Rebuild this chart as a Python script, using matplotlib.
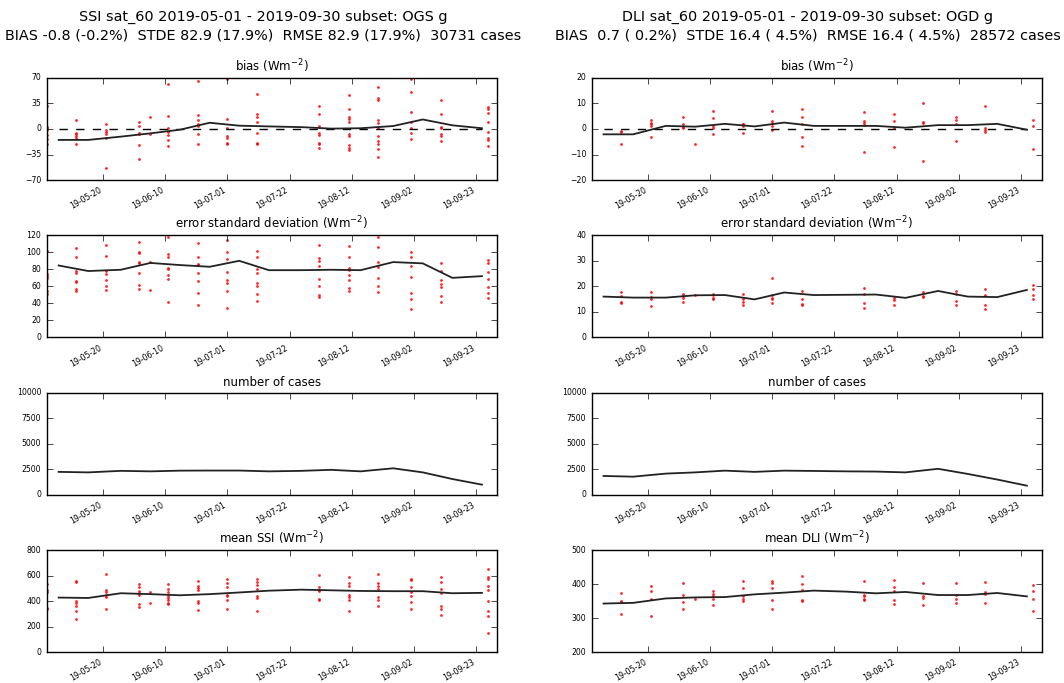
import matplotlib
matplotlib.use('Agg')
import matplotlib.pyplot as plt
import matplotlib.dates as mdates
import pandas as pd

# dekad centres (black lines) and station/day columns (red dots)
dekad_dates = ['2019-05-05', '2019-05-15', '2019-05-26', '2019-06-05', '2019-06-15',
               '2019-06-25', '2019-07-05', '2019-07-15', '2019-07-26', '2019-08-05',
               '2019-08-15', '2019-08-26', '2019-09-05', '2019-09-15', '2019-09-25']
point_dates_ssi = ['2019-05-01', '2019-05-11', '2019-05-21', '2019-06-01', '2019-06-05',
                   '2019-06-11', '2019-06-21', '2019-07-01', '2019-07-11', '2019-08-01',
                   '2019-08-11', '2019-08-21', '2019-09-01', '2019-09-11', '2019-09-27']
point_dates_dli = point_dates_ssi[1:]
tick_dates = ['2019-05-20', '2019-06-10', '2019-07-01', '2019-07-22',
              '2019-08-12', '2019-09-02', '2019-09-23']

# SSI
ssi_bias = [-15, -15, -10.5, -6, -1, 8.5, 4.5, 3.5, 2.5, 0.5, 1, 4, 13, 5, 1]
ssi_stde = [84.5, 78, 79.5, 87.5, 85, 83, 90, 79, 79, 79.5, 79, 88.5, 87, 70, 72]
ssi_cases = [2250, 2200, 2350, 2300, 2370, 2380, 2380, 2300, 2350, 2450, 2300, 2600, 2200, 1550, 1000]
ssi_mean = [428, 425, 462, 455, 446, 455, 468, 482, 490, 485, 480, 478, 478, 462, 465]

ssi_bias_pts = [
    [31, 3, 1, -2, -8, -14, -20],
    [12, -5, -7, -9, -12, -20],
    [7, -1, -4, -7, -13, -54],
    [10, 4, -6, -7, -22, -41],
    [16, -7],
    [61, 18, 2, -4, -8, -15, -23],
    [66, 19, 12, 7, 4, -7, -20],
    [69, 14, 2, -10, -12, -19, -21],
    [48, 21, 17, 9, -6, -19, -20],
    [31, 20, 4, -5, -8, -19, -21, -26],
    [47, 27, 17, 14, 10, -7, -10, -22, -26, -29],
    [58, 43, 40, 12, 8, 1, -10, -17, -20, -27, -39],
    [69, 51, 23, 9, 1, -6, -14],
    [39, 20, 3, 1, -7, -10, -16],
    [30, 28, 22, 9, -4, -13, -15, -24],
]
ssi_stde_pts = [
    [102, 75, 72, 70, 55, 51],
    [105, 95, 78, 76, 66, 65, 57, 54],
    [108, 96, 78, 75, 68, 60, 56],
    [112, 100, 99, 89, 87, 76, 62, 57],
    [89, 56],
    [118, 98, 94, 81, 80, 73, 69, 42],
    [111, 94, 86, 85, 76, 66, 52, 38],
    [114, 100, 92, 77, 67, 64, 54, 35],
    [102, 95, 80, 76, 64, 61, 51, 43],
    [109, 93, 90, 84, 69, 60, 50, 47],
    [107, 94, 81, 79, 73, 67, 58, 55],
    [118, 106, 89, 83, 70, 60, 53],
    [100, 94, 84, 71, 52, 45, 34],
    [88, 78, 67, 63, 59, 49, 42],
    [91, 88, 77, 69, 59, 52, 46],
]
ssi_mean_pts = [
    [535, 485, 470, 345, 340],
    [560, 548, 400, 385, 365, 320, 260],
    [612, 490, 470, 450, 430, 340],
    [535, 512, 483, 460, 445, 380, 355],
    [470, 385],
    [538, 496, 472, 444, 425, 407, 386, 378],
    [556, 522, 504, 491, 404, 386, 333],
    [577, 543, 512, 451, 438, 412, 341],
    [570, 551, 530, 496, 438, 425, 320],
    [604, 512, 491, 478, 417, 407],
    [588, 543, 522, 446, 433, 407, 320],
    [614, 543, 517, 496, 430, 407, 365],
    [577, 564, 509, 470, 438, 391, 341],
    [590, 549, 496, 465, 360, 339, 294],
    [648, 588, 575, 517, 491, 404, 320, 286, 150],
]

# DLI
dli_bias = [-2.1, -2.1, 1.2, 0.9, 2.0, 1.0, 2.5, 1.2, 1.2, 1.2, 0.5, 1.5, 1.5, 2.0, -0.3]
dli_stde = [16.0, 15.6, 15.6, 16.5, 16.6, 14.9, 17.6, 16.6, 16.7, 16.8, 15.5, 18.2, 16.0, 15.8, 18.6]
dli_cases = [1850, 1780, 2080, 2200, 2370, 2250, 2370, 2340, 2300, 2280, 2200, 2550, 2050, 1500, 900]
dli_mean = [343, 345, 358, 361, 362, 370, 375, 381, 378, 373, 377, 368, 368, 374, 364]

dli_bias_pts = [
    [-0.7, -1.2, -5.9],
    [3.7, 2.4, 1.8, 1.1, -3.1],
    [4.5, 1.8, 0.8, 0.2],
    [-5.7],
    [7.0, 4.1, 1.1, 0.5, -2.1],
    [2.1, 1.8, 1.1, -1.4],
    [7.0, 3.1, 2.4, 1.1, -0.5],
    [8.0, 4.5, 1.9, -3.1, -6.6],
    [6.7, 3.2, 2.4, 1.5, -8.9],
    [5.8, 3.2, 0.5, -7.0],
    [10.2, 2.8, 2.5, -12.4],
    [4.8, 3.7, 2.1, -4.7],
    [9.1, 0.5, -0.5, -1.2],
    [3.7, 1.2, -8.0],
]
dli_stde_pts = [
    [17.6, 16.3, 13.9, 13.6],
    [17.6, 15.9, 15.2, 12.5],
    [17.2, 16.3, 15.5, 13.9],
    [16.8],
    [17.2, 16.5, 15.6, 14.9],
    [17.2, 15.2, 13.9, 12.9],
    [23.1, 16.8, 15.6, 15.0, 13.3],
    [18.2, 15.2, 13.0, 12.6],
    [19.2, 17.0, 13.3, 11.6],
    [15.6, 14.6, 12.6],
    [17.8, 16.3, 15.9],
    [18.1, 17.2, 14.2, 12.6],
    [18.9, 16.5, 12.6, 11.1],
    [20.5, 18.8, 16.5, 14.9],
]
dli_mean_pts = [
    [374, 350, 347, 312],
    [394, 379, 356, 307],
    [404, 369, 348, 328],
    [357],
    [379, 372, 366, 357, 340],
    [409, 389, 364, 357, 350],
    [409, 402, 389, 352, 327],
    [423, 399, 382, 353, 350],
    [409, 369, 364, 357, 352],
    [413, 392, 379, 354, 343],
    [402, 364, 359, 340],
    [402, 369, 357, 345],
    [406, 377, 371, 345],
    [398, 379, 357, 321],
]

columns = [
    dict(name='SSI',
         head='SSI sat_60 2019-05-01 - 2019-09-30 subset: OGS g\n'
              'BIAS -0.8 (-0.2%)  STDE 82.9 (17.9%)  RMSE 82.9 (17.9%)  30731 cases',
         lines=[ssi_bias, ssi_stde, ssi_cases, ssi_mean],
         pts=[ssi_bias_pts, ssi_stde_pts, None, ssi_mean_pts],
         pdates=point_dates_ssi,
         ylims=[(-70, 70), (0, 120), (0, 10000), (0, 800)],
         yticks=[[-70, -35, 0, 35, 70], range(0, 121, 20), range(0, 10001, 2500), range(0, 801, 200)],
         xhead=0.247),
    dict(name='DLI',
         head='DLI sat_60 2019-05-01 - 2019-09-30 subset: OGD g\n'
              'BIAS  0.7 ( 0.2%)  STDE 16.4 ( 4.5%)  RMSE 16.4 ( 4.5%)  28572 cases',
         lines=[dli_bias, dli_stde, dli_cases, dli_mean],
         pts=[dli_bias_pts, dli_stde_pts, None, dli_mean_pts],
         pdates=point_dates_dli,
         ylims=[(-20, 20), (0, 40), (0, 10000), (200, 500)],
         yticks=[range(-20, 21, 10), range(0, 41, 10), range(0, 10001, 2500), range(200, 501, 100)],
         xhead=0.759),
]

plt.style.use('classic')
plt.rcParams['font.family'] = ['DejaVu Sans']
plt.rcParams['mathtext.fontset'] = 'dejavusans'
plt.rcParams['figure.facecolor'] = 'white'
plt.rcParams['savefig.facecolor'] = 'white'

fig, axes = plt.subplots(4, 2, figsize=(10.64, 6.83), dpi=100)
fig.subplots_adjust(left=0.044, right=0.979, top=0.886, bottom=0.045,
                    wspace=0.211, hspace=0.54)

dk = pd.to_datetime(dekad_dates)
ticks = pd.to_datetime(tick_dates)

for c, col in enumerate(columns):
    fig.text(col['xhead'], 0.986, col['head'], ha='center', va='top', fontsize=10.4,
             linespacing=1.45)
    titles = ['bias (Wm$^{-2}$)', 'error standard deviation (Wm$^{-2}$)',
              'number of cases', 'mean %s (Wm$^{-2}$)' % col['name']]
    pd_dates = pd.to_datetime(col['pdates'])
    for r in range(4):
        ax = axes[r, c]
        pts = col['pts'][r]
        if pts is not None:
            xs, ys = [], []
            for d, vals in zip(pd_dates, pts):
                xs += [d] * len(vals)
                ys += vals
            ax.plot(xs, ys, '.', color='r', ms=4, mec='none', alpha=0.85)
        if r == 0:
            ax.plot(dk, [0] * len(dk), 'k--', lw=1.0)
        ax.plot(dk, col['lines'][r], '-', color='#222222', lw=1.3)
        ax.set_xlim(pd.Timestamp('2019-05-01'), pd.Timestamp('2019-09-30'))
        ax.set_ylim(*col['ylims'][r])
        ax.set_yticks(list(col['yticks'][r]))
        ax.set_xticks(ticks)
        ax.xaxis.set_major_formatter(mdates.DateFormatter('%y-%m-%d'))
        ax.tick_params(labelsize=5.6, length=4)
        for lab in ax.get_xticklabels():
            lab.set_rotation(30)
            lab.set_ha('right')
        ax.set_title(titles[r], fontsize=8.5)

fig.savefig('out.png', dpi=100)
